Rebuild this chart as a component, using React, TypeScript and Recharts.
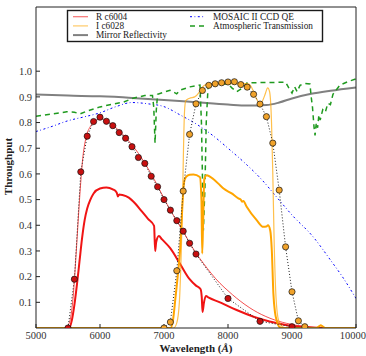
import React from "react";
import { ComposedChart, Line, XAxis, YAxis } from "recharts";

const FONT = "'Liberation Serif', 'DejaVu Serif', 'Times New Roman', serif";

// [wavelength Å, value]
const mirror: [number, number][] = [
  [5000, 0.909], [5500, 0.905], [6000, 0.902], [6500, 0.896], [7000, 0.888], [7500, 0.879],
  [8000, 0.87], [8300, 0.866], [8600, 0.868], [8800, 0.878], [9000, 0.894], [9300, 0.912],
  [9600, 0.924], [10000, 0.937],
];

const ccdQE: [number, number][] = [
  [5000, 0.765], [5250, 0.785], [5500, 0.807], [5750, 0.822], [6000, 0.838], [6250, 0.862],
  [6500, 0.878], [6750, 0.873], [7000, 0.862], [7250, 0.83], [7500, 0.795], [7750, 0.752],
  [8000, 0.7], [8300, 0.634], [8500, 0.585], [8800, 0.498], [9000, 0.44], [9330, 0.355],
  [9600, 0.265], [9800, 0.195], [10000, 0.115],
];

const atmosphere: [number, number][] = [
  [5000, 0.825], [5250, 0.833], [5480, 0.842], [5600, 0.84], [5690, 0.834], [5800, 0.845],
  [6000, 0.861], [6200, 0.872], [6370, 0.88], [6520, 0.895], [6700, 0.905], [6820, 0.905],
  [6840, 0.86], [6860, 0.72], [6880, 0.85], [6900, 0.91], [7094, 0.926], [7198, 0.912],
  [7250, 0.926], [7406, 0.939], [7562, 0.946], [7585, 0.8], [7600, 0.6], [7615, 0.38],
  [7640, 0.55], [7660, 0.8], [7690, 0.946], [8000, 0.95], [8060, 0.935], [8135, 0.92],
  [8230, 0.935], [8300, 0.955], [8900, 0.957], [8950, 0.935], [9000, 0.915], [9040, 0.94],
  [9080, 0.92], [9125, 0.945], [9200, 0.952], [9280, 0.95], [9300, 0.9], [9320, 0.86],
  [9345, 0.78], [9360, 0.75], [9380, 0.8], [9400, 0.78], [9420, 0.83], [9440, 0.81],
  [9480, 0.85], [9520, 0.84], [9560, 0.875], [9600, 0.87], [9640, 0.91], [9700, 0.93],
  [9750, 0.946], [9880, 0.96], [10000, 0.97],
];

// R c6004 filter curve and the total R throughput
const rFilter: [number, number][] = [
  [5000, 0], [5450, 0], [5520, 0.02], [5580, 0.12], [5630, 0.3], [5680, 0.5], [5730, 0.66],
  [5780, 0.74], [5850, 0.785], [5950, 0.81], [6020, 0.815], [6100, 0.808], [6200, 0.79],
  [6400, 0.742], [6600, 0.68], [6800, 0.6], [7000, 0.505], [7100, 0.458], [7200, 0.417],
  [7300, 0.376], [7400, 0.332], [7500, 0.292], [7615, 0.252], [7875, 0.174], [8000, 0.145],
  [8135, 0.116], [8395, 0.07], [8656, 0.038], [8917, 0.018], [9200, 0.006], [9500, 0.001],
  [10000, 0],
];

const rThroughput: [number, number][] = [
  [5000, 0], [5520, 0], [5560, 0.03], [5600, 0.09], [5640, 0.17], [5680, 0.26], [5720, 0.35],
  [5760, 0.42], [5800, 0.465], [5850, 0.5], [5900, 0.524], [6000, 0.543], [6100, 0.547],
  [6200, 0.54], [6260, 0.528], [6280, 0.512], [6300, 0.52], [6350, 0.518], [6450, 0.508],
  [6550, 0.485], [6650, 0.455], [6750, 0.425], [6845, 0.398], [6862, 0.3], [6878, 0.335],
  [6920, 0.358], [6970, 0.345], [7100, 0.31], [7250, 0.25], [7400, 0.19], [7500, 0.165],
  [7570, 0.152], [7590, 0.12], [7602, 0.062], [7625, 0.1], [7655, 0.125], [7700, 0.118],
  [7875, 0.1], [8000, 0.085], [8135, 0.07], [8400, 0.044], [8650, 0.025], [8900, 0.012],
  [9200, 0.004], [9500, 0], [10000, 0],
];

const rMeasured: [number, number][] = [
  [5500, 0], [5600, 0.19], [5700, 0.608], [5800, 0.747], [5900, 0.804], [6000, 0.821],
  [6100, 0.805], [6200, 0.788], [6300, 0.761], [6400, 0.739], [6500, 0.706], [6600, 0.664],
  [6700, 0.641], [6800, 0.591], [6900, 0.55], [7000, 0.5], [7100, 0.459], [7200, 0.418],
  [7300, 0.377], [7400, 0.33], [7500, 0.288], [8000, 0.115], [8500, 0.026], [9000, 0.005],
];

// I c6028 filter curve and the total I throughput
const iFilter: [number, number][] = [
  [5000, 0], [7150, 0], [7200, 0.02], [7240, 0.1], [7270, 0.3], [7290, 0.5], [7305, 0.7],
  [7320, 0.84], [7340, 0.885], [7400, 0.895], [7480, 0.9], [7540, 0.915], [7590, 0.935],
  [7650, 0.948], [7750, 0.952], [8300, 0.952], [8350, 0.945], [8400, 0.92], [8450, 0.89],
  [8500, 0.875], [8540, 0.885], [8580, 0.91], [8620, 0.935], [8650, 0.92], [8680, 0.8],
  [8700, 0.6], [8720, 0.35], [8750, 0.12], [8790, 0.03], [8850, 0.005], [8900, 0],
  [9380, 0], [9450, 0.012], [9520, 0], [10000, 0],
];

const iThroughput: [number, number][] = [
  [5000, 0], [7100, 0], [7140, 0.03], [7180, 0.12], [7224, 0.226], [7250, 0.3], [7276, 0.42],
  [7300, 0.53], [7320, 0.575], [7350, 0.59], [7400, 0.597], [7460, 0.598], [7560, 0.588],
  [7585, 0.5], [7597, 0.29], [7610, 0.4], [7630, 0.58], [7667, 0.595], [7770, 0.58],
  [7875, 0.556], [7930, 0.543], [8057, 0.524], [8161, 0.505], [8200, 0.5], [8220, 0.492],
  [8240, 0.495], [8292, 0.472], [8448, 0.42], [8552, 0.394], [8600, 0.395], [8625, 0.4],
  [8660, 0.38], [8685, 0.3], [8709, 0.135], [8735, 0.06], [8760, 0.03], [8800, 0.005],
  [8850, 0], [9380, 0], [9450, 0.01], [9520, 0], [10000, 0],
];

const iMeasured: [number, number][] = [
  [7000, 0], [7100, 0.023], [7200, 0.223], [7300, 0.533], [7400, 0.754], [7500, 0.873],
  [7600, 0.925], [7700, 0.945], [7800, 0.951], [7900, 0.955], [8000, 0.958], [8100, 0.959],
  [8200, 0.948], [8300, 0.938], [8400, 0.91], [8500, 0.872], [8600, 0.823], [8700, 0.72],
  [8800, 0.537], [8900, 0.316], [9000, 0.141], [9100, 0.028], [9200, 0.005],
];

const xTicks = [5000, 6000, 7000, 8000, 9000, 10000];
const topTicks = [6000, 7000, 8000, 9000];
const yTicks = [0.1, 0.2, 0.3, 0.4, 0.5, 0.6, 0.7, 0.8, 0.9, 1.0];

const RED = "#f01414";
const ORANGE = "#ffa500";

const legendItems = [
  { label: "R c6004", stroke: RED, width: 1.2, opacity: 0.6, dash: undefined },
  { label: "I c6028", stroke: ORANGE, width: 1.2, opacity: 0.6, dash: undefined },
  { label: "Mirror Reflectivity", stroke: "#808080", width: 2, opacity: 1, dash: undefined },
  { label: "MOSAIC II CCD QE", stroke: "#0000ff", width: 1, opacity: 1, dash: "2 2.5 0.8 2.5" },
  { label: "Atmospheric Transmission", stroke: "#1f9a1f", width: 1.5, opacity: 1, dash: "5 4" },
];

const rows = (pts: [number, number][]) => pts.map(([w, v]) => ({ w, v }));

const markerDot = (fill: string) => (p: any) => (
  <circle key={`m-${p.index}`} cx={p.cx} cy={p.cy} r={3.1} fill={fill} stroke="#111" strokeWidth={0.7} />
);

// legend drawn straight into the chart svg, over the top of the plot
function LegendBox({ x, y }: { x: number; y: number }) {
  return (
    <g className="legend-box" transform={`translate(${x} ${y})`}>
      <rect x={0.5} y={0.5} width={255} height={31} fill="#ffffff" stroke="#1a1a1a" strokeWidth={1.4} />
      {legendItems.map((it, i) => {
        const col = i < 3 ? 0 : 1;
        const row = col ? i - 3 : i;
        const x0 = col ? 123 : 6;
        const ly = 6.7 + row * 9.2;
        return (
          <g key={it.label}>
            <line x1={x0} x2={x0 + 15} y1={ly} y2={ly} stroke={it.stroke} strokeWidth={it.width}
              strokeOpacity={it.opacity} strokeDasharray={it.dash} />
            <text x={x0 + 23} y={ly + 3.1} fontSize={9.3} fontFamily={FONT} fill="#222">{it.label}</text>
          </g>
        );
      })}
    </g>
  );
}

export default function App() {
  const tickStyle = { fontSize: 10.5, fill: "#333", fontFamily: FONT };
  const axisLine = { stroke: "#222", strokeWidth: 1 };
  return (
    <div style={{ position: "absolute", left: 0, top: 0, width: 366, height: 356, fontFamily: FONT }}>
      <style>{`.recharts-surface text { font-family: ${FONT}; }`}</style>
      <ComposedChart width={366} height={356} margin={{ top: 0, right: 0, bottom: 0, left: 0 }}
        style={{ fontFamily: FONT }}>
        <XAxis dataKey="w" type="number" domain={[5000, 10000]} ticks={xTicks} height={28}
          tick={tickStyle} tickSize={-4} tickMargin={8} axisLine={axisLine} tickLine={axisLine}
          allowDataOverflow
          label={{
            content: (p: any) => (
              <text x={p.viewBox.x + p.viewBox.width / 2} y={352} textAnchor="middle" fontSize={11}
                fontWeight="bold" fontFamily={FONT} fill="#222">
                Wavelength (<tspan fontStyle="italic">Å</tspan>)
              </text>
            ),
          }} />
        <XAxis xAxisId="top" orientation="top" dataKey="w" type="number" domain={[5000, 10000]}
          ticks={topTicks} height={7} tick={false} tickSize={-4} axisLine={axisLine} tickLine={axisLine} />
        <YAxis type="number" domain={[0, 1.25]} ticks={yTicks} width={36} tick={tickStyle}
          tickSize={-4} tickMargin={8} axisLine={axisLine} tickLine={axisLine} allowDataOverflow
          tickFormatter={(v: number) => v.toFixed(1)}
          label={{
            content: (p: any) => {
              const cx = p.viewBox.x + 9;
              const cy = p.viewBox.y + p.viewBox.height / 2 - 1;
              return (
                <text x={cx} y={cy} transform={`rotate(-90 ${cx} ${cy})`} textAnchor="middle"
                  dominantBaseline="middle" fontSize={11} fontWeight="bold" fontFamily={FONT} fill="#222">
                  Throughput
                </text>
              );
            },
          }} />
        <YAxis yAxisId="right" orientation="right" type="number" domain={[0, 1.25]} ticks={yTicks}
          width={10} tick={false} tickSize={-4} axisLine={axisLine} tickLine={axisLine} />

        <Line data={rows(mirror)} dataKey="v" type="monotone" stroke="#808080" strokeWidth={2}
          dot={false} activeDot={false} isAnimationActive={false} />
        <Line data={rows(ccdQE)} dataKey="v" type="monotone" stroke="#0000ff" strokeWidth={1}
          strokeDasharray="2 2.5 0.8 2.5" dot={false} activeDot={false} isAnimationActive={false} />
        <Line data={rows(atmosphere)} dataKey="v" type="linear" stroke="#1f9a1f" strokeWidth={1.5}
          strokeDasharray="5 4" dot={false} activeDot={false} isAnimationActive={false} />

        <Line data={rows(rFilter)} dataKey="v" type="monotone" stroke={RED} strokeOpacity={0.75}
          strokeWidth={1} dot={false} activeDot={false} isAnimationActive={false} />
        <Line data={rows(rThroughput)} dataKey="v" type="monotone" stroke={RED} strokeWidth={2}
          dot={false} activeDot={false} isAnimationActive={false} />
        <Line data={rows(iFilter)} dataKey="v" type="monotone" stroke={ORANGE} strokeOpacity={0.7}
          strokeWidth={1.2} dot={false} activeDot={false} isAnimationActive={false} />
        <Line data={rows(iThroughput)} dataKey="v" type="monotone" stroke={ORANGE} strokeWidth={2}
          dot={false} activeDot={false} isAnimationActive={false} />

        <Line data={rows(rMeasured)} dataKey="v" type="linear" stroke="#222" strokeWidth={1}
          strokeDasharray="1 2" dot={markerDot("#c81010")} activeDot={false} isAnimationActive={false} />
        <Line data={rows(iMeasured)} dataKey="v" type="linear" stroke="#222" strokeWidth={1}
          strokeDasharray="1 2" dot={markerDot("#f0a22a")} activeDot={false} isAnimationActive={false} />

        <LegendBox x={67} y={10} />
      </ComposedChart>
    </div>
  );
}
